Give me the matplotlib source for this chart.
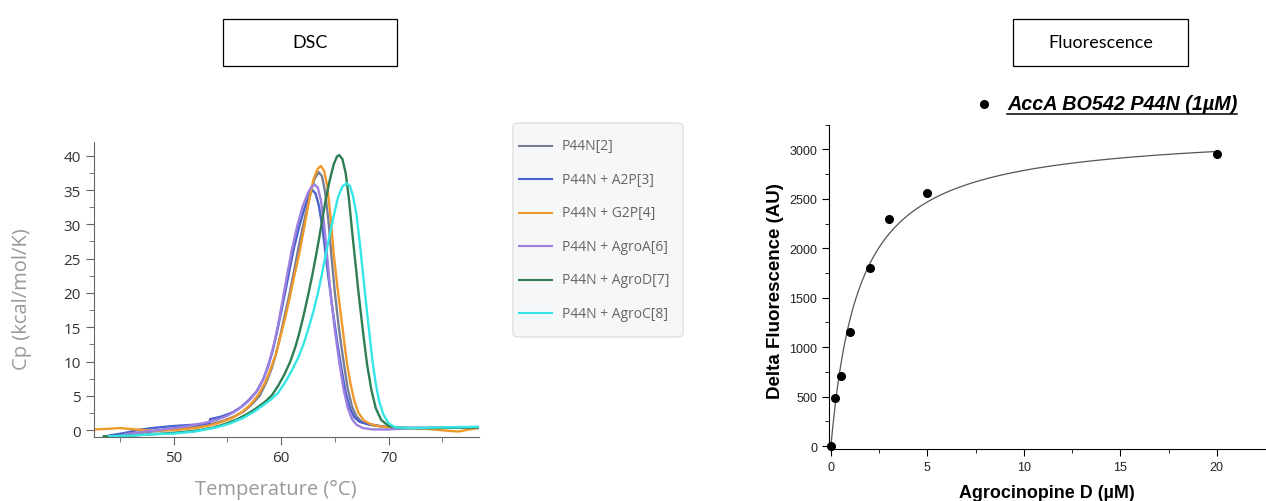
import matplotlib
matplotlib.use("Agg")
import matplotlib.pyplot as plt
import numpy as np
from matplotlib.lines import Line2D
from matplotlib.patches import Rectangle, FancyBboxPatch

# DSC thermograms
dsc_labels = ["P44N[2]", "P44N + A2P[3]", "P44N + G2P[4]",
              "P44N + AgroA[6]", "P44N + AgroD[7]", "P44N + AgroC[8]"]
dsc_colors = ["#777c98", "#4a62cc", "#ee9a2a", "#9d80e0", "#2f7d52", "#35e6e6"]

t_p44n = [46.0, 48.0, 50.0, 52.0, 53.5, 54.5, 55.5, 56.5, 57.3, 58.0, 58.6, 59.1, 59.5, 59.9, 60.3,
          60.8, 61.2, 61.6, 62.0, 62.4, 62.8, 63.1, 63.5, 63.8, 64.1, 64.4, 64.7, 65.0, 65.4, 65.85,
          66.2, 66.6, 67.0, 67.5, 68.2, 69.0, 71.0, 74.0, 78.4]
cp_p44n = [-0.5, -0.2, 0.1, 0.5, 0.9, 1.3, 1.9, 2.7, 3.8, 5.0, 6.9, 8.9, 11.0, 13.6, 16.5,
           20.0, 23.2, 26.5, 29.5, 32.3, 34.9, 36.6, 37.6, 37.0, 34.6, 30.5, 25.0, 20.0, 14.5, 9.5,
           6.0, 3.4, 2.0, 1.2, 0.8, 0.6, 0.3, 0.3, 0.4]

t_a2p = [44.0, 45.5, 46.6, 48.0, 50.0, 52.0, 53.3, 53.4, 54.5, 55.5, 56.3, 57.0, 57.7, 58.3, 58.8,
         59.2, 59.6, 60.0, 60.4, 60.8, 61.2, 61.7, 62.2, 62.6, 62.9, 63.2, 63.5, 63.85, 64.3, 64.75,
         65.2, 65.6, 66.0, 66.4, 66.8, 67.3, 68.0, 68.8, 70.0, 73.0, 78.4]
cp_a2p = [-0.8, -0.4, 0.0, 0.3, 0.6, 0.8, 0.9, 1.6, 2.0, 2.6, 3.4, 4.4, 5.6, 7.3, 9.3,
          11.5, 14.2, 17.2, 20.3, 23.5, 26.6, 29.8, 32.5, 34.3, 35.0, 34.5, 32.8, 29.5, 23.5, 18.0,
          13.0, 9.0, 5.5, 3.2, 1.9, 1.2, 0.9, 0.7, 0.4, 0.3, 0.4]

t_g2p = [42.6, 44.0, 45.0, 46.5, 48.0, 50.0, 52.0, 53.4, 54.5, 55.5, 56.4, 57.2, 57.9, 58.5, 59.0,
         59.5, 59.9, 60.4, 60.8, 61.2, 61.7, 62.2, 62.6, 63.0, 63.4, 63.7, 64.0, 64.3, 64.6, 64.9,
         65.3, 65.7, 66.1, 66.45, 66.8, 67.2, 67.7, 68.3, 69.0, 70.0, 71.5, 73.5, 75.5, 76.5, 77.5,
         78.4]
cp_g2p = [0.1, 0.2, 0.3, 0.1, -0.1, 0.0, 0.3, 0.7, 1.2, 1.8, 2.7, 3.8, 5.2, 6.9, 8.8,
          11.0, 13.4, 16.5, 19.3, 22.3, 25.8, 30.0, 33.5, 36.5, 38.1, 38.5, 37.8, 35.5, 31.0, 25.5,
          20.0, 15.0, 10.0, 6.8, 4.3, 2.5, 1.4, 0.9, 0.6, 0.4, 0.3, 0.2, -0.1, -0.2, 0.1,
          0.3]

t_agroa = [45.5, 47.0, 49.0, 51.0, 52.0, 53.0, 54.0, 55.0, 55.8, 56.5, 57.2, 57.8, 58.4, 58.9, 59.3,
           59.7, 60.2, 60.6, 61.0, 61.5, 62.0, 62.5, 62.8, 63.1, 63.4, 63.7, 64.0, 64.3, 64.6, 65.0,
           65.4, 65.8, 66.2, 66.6, 67.0, 67.6, 68.5, 70.0, 72.0, 78.4]
cp_agroa = [-0.6, -0.3, 0.1, 0.5, 0.8, 1.1, 1.5, 2.1, 2.8, 3.6, 4.6, 5.8, 7.6, 10.0, 12.3,
            15.2, 19.5, 23.0, 26.3, 29.8, 32.6, 34.6, 35.4, 35.8, 35.4, 33.5, 30.0, 25.0, 20.0, 14.5,
            10.0, 6.0, 3.2, 1.6, 0.8, 0.3, 0.1, 0.1, 0.3, 0.4]

t_agrod = [43.5, 46.0, 48.0, 50.0, 52.0, 53.5, 54.6, 55.8, 56.8, 57.6, 58.4, 59.1, 59.7, 60.3, 60.85,
           61.3, 61.7, 62.1, 62.5, 62.9, 63.3, 63.7, 64.1, 64.5, 64.9, 65.2, 65.4, 65.7, 66.0, 66.3,
           66.6, 66.9, 67.2, 67.6, 68.0, 68.4, 68.8, 69.3, 70.0, 71.0, 74.0, 78.4]
cp_agrod = [-0.9, -0.8, -0.6, -0.4, -0.1, 0.3, 0.8, 1.5, 2.3, 3.1, 4.0, 5.0, 6.4, 8.1, 10.0,
            12.0, 14.2, 16.8, 19.6, 22.6, 25.9, 29.5, 33.2, 36.3, 38.8, 39.9, 40.1, 39.5, 37.5, 33.8,
            29.0, 24.5, 20.0, 14.5, 9.5, 5.8, 3.2, 1.5, 0.6, 0.3, 0.3, 0.4]

t_agroc = [44.0, 46.0, 48.0, 50.0, 52.0, 54.0, 55.3, 56.5, 57.5, 58.3, 59.0, 59.7, 60.3, 60.9, 61.6,
           62.1, 62.5, 63.0, 63.4, 63.8, 64.2, 64.7, 65.0, 65.3, 65.7, 66.1, 66.4, 66.7, 67.0, 67.3,
           67.6, 67.9, 68.2, 68.5, 68.8, 69.1, 69.5, 70.0, 70.6, 72.0, 78.4]
cp_agroc = [-0.9, -0.8, -0.6, -0.5, -0.2, 0.4, 1.0, 1.8, 2.7, 3.6, 4.4, 5.4, 6.8, 8.4, 10.6,
            12.6, 14.6, 17.3, 19.8, 22.8, 26.0, 29.8, 32.0, 34.0, 35.5, 36.0, 35.6, 34.0, 31.5, 27.5,
            23.0, 18.5, 14.2, 10.0, 6.8, 4.3, 2.3, 1.0, 0.4, 0.3, 0.5]

dsc_t = [t_p44n, t_a2p, t_g2p, t_agroa, t_agrod, t_agroc]
dsc_cp = [cp_p44n, cp_a2p, cp_g2p, cp_agroa, cp_agrod, cp_agroc]

# Fluorescence titration
conc = [0, 0.2, 0.5, 1, 2, 3, 5, 20]
dfluo = [0, 485, 704, 1153, 1803, 2296, 2562, 2949]
# one-site binding fit parameters
fit_bmax = 3200
fit_kd = 1.48

W, H = 1266, 502
fig = plt.figure(figsize=(12.66, 5.02), dpi=100)

# ---- panel titles in boxes
for x0, x1, txt in [(223, 397, "DSC"), (1013, 1188, "Fluorescence")]:
    fig.patches.append(Rectangle((x0 / W, 1 - 67 / H), (x1 - x0) / W, 47 / H,
                                 transform=fig.transFigure, fc="white", ec="black", lw=0.9))
    fig.text((x0 + x1) / 2 / W, 1 - 43.5 / H, txt, ha="center", va="center",
             fontsize=13, family="Lato", color="black")

# ---- DSC
ax1 = fig.add_axes([94 / W, 1 - 438 / H, 385 / W, 295 / H])
for t, cp, c, lab in zip(dsc_t, dsc_cp, dsc_colors, dsc_labels):
    ax1.plot(t, cp, color=c, lw=1.7, label=lab, solid_joinstyle="round")
ax1.set_xlim(42.6, 78.4)
ax1.set_ylim(-1.0, 42)
ax1.set_xticks([50, 60, 70])
ax1.set_xticks([45, 55, 65, 75], minor=True)
ax1.set_yticks(range(0, 41, 5))
ax1.set_yticks(np.arange(2.5, 40, 5), minor=True)
for s in ["top", "right"]:
    ax1.spines[s].set_visible(False)
for s in ["left", "bottom"]:
    ax1.spines[s].set_color("#666666")
ax1.tick_params(which="both", direction="out", color="#666666", labelcolor="#333333",
                labelsize=11)
ax1.tick_params(which="major", length=6)
ax1.tick_params(which="minor", length=3.5)
for lbl in ax1.get_xticklabels() + ax1.get_yticklabels():
    lbl.set_family("Open Sans")
ax1.set_xlabel("Temperature (°C)", fontsize=14.5, color="#999999", family="Open Sans")
ax1.set_ylabel("Cp (kcal/mol/K)", fontsize=14.5, color="#999999", family="Open Sans")
ax1.xaxis.set_label_coords(0.473, -0.142)
ax1.yaxis.set_label_coords(-0.161, 0.47)

# legend panel of the DSC plot
fig.patches.append(FancyBboxPatch((513 / W, 1 - 338 / H), 170 / W, 214 / H,
                                  boxstyle="round,pad=0,rounding_size=0.006",
                                  transform=fig.transFigure, fc="#f6f7f9", ec="#dddddd", lw=0.9))
for i, (c, lab) in enumerate(zip(dsc_colors, dsc_labels)):
    yy = 1 - (147 + i * 33.4) / H
    fig.lines.append(Line2D([519 / W, 552 / W], [yy, yy], color=c, lw=1.5,
                            transform=fig.transFigure))
    fig.text(562 / W, yy, lab, ha="left", va="center", fontsize=10, color="#666666",
             family="Open Sans")

# ---- Fluorescence
ax2 = fig.add_axes([829 / W, 1 - 450 / H, 436 / W, 324.3 / H])
xf = np.linspace(0, 20, 400)
ax2.plot(xf, fit_bmax * xf / (fit_kd + xf), color="#555555", lw=0.9)
ax2.plot(conc, dfluo, "o", color="black", ms=5.5, clip_on=False, zorder=3)
ax2.set_xlim(-0.1, 22.5)
ax2.set_ylim(-30, 3250)
ax2.set_xticks([0, 5, 10, 15, 20])
ax2.set_xticks(np.arange(2.5, 22.5, 5), minor=True)
ax2.set_yticks(range(0, 3001, 500))
ax2.set_yticks(range(250, 3251, 500), minor=True)
for s in ["top", "right"]:
    ax2.spines[s].set_visible(False)
ax2.tick_params(which="both", direction="out", labelsize=9, labelcolor="#222222")
ax2.tick_params(which="major", length=5)
ax2.tick_params(which="minor", length=3)
for lbl in ax2.get_xticklabels() + ax2.get_yticklabels():
    lbl.set_family("Liberation Sans")
ax2.set_xlabel("Agrocinopine D (µM)", fontsize=12.9, fontweight="bold", family="Liberation Sans",
               labelpad=8)
ax2.set_ylabel("Delta Fluorescence (AU)", fontsize=13.5, fontweight="bold", family="Liberation Sans")
ax2.yaxis.set_label_coords(-0.104, (450 - 291) / 324.3)

# legend-like label with underline
fig.lines.append(Line2D([984 / W], [1 - 105 / H], marker="o", color="black", ms=5.5,
                        transform=fig.transFigure))
lt = fig.text(1007 / W, 1 - 104 / H, "AccA BO542 P44N (1µM)", ha="left", va="center",
              fontsize=14.2, fontweight="bold", fontstyle="italic", family="Liberation Sans")
fig.canvas.draw()
bb = lt.get_window_extent()
fig.lines.append(Line2D([bb.x0 / W, bb.x1 / W], [(bb.y0 - 1) / H, (bb.y0 - 1) / H],
                        color="black", lw=1.1, transform=fig.transFigure))

fig.savefig("out.png", dpi=100)
